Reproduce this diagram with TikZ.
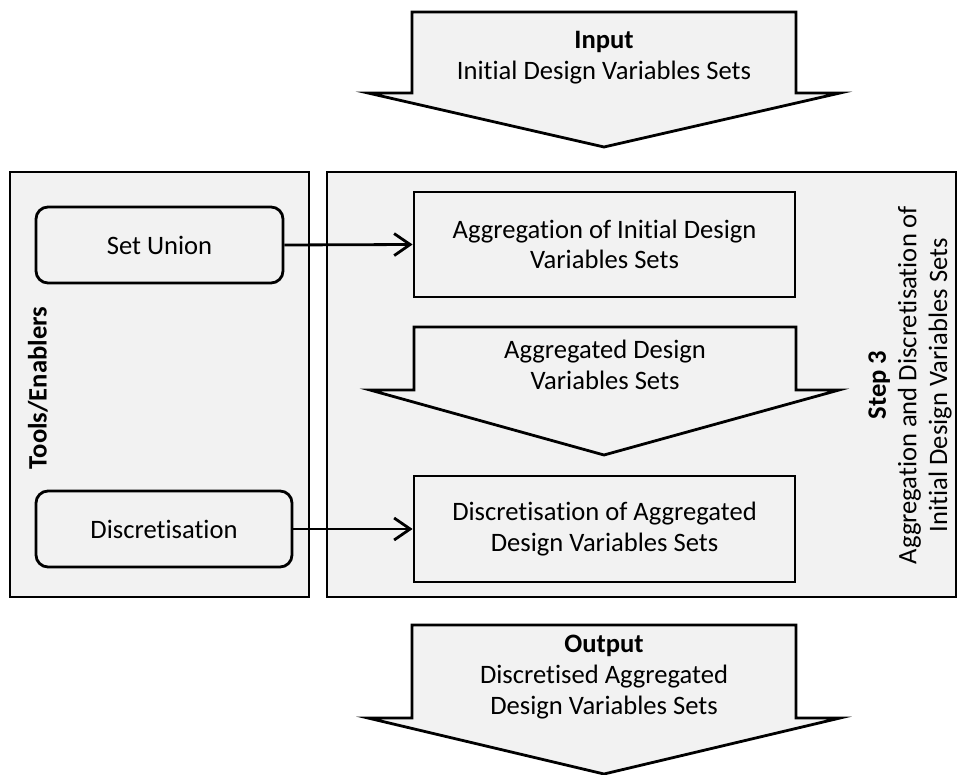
\documentclass[tikz,border=0pt]{standalone}
\usepackage{fontspec}
\setmainfont{Carlito}[Ligatures=NoCommon]
\usetikzlibrary{arrows.meta}
\definecolor{panelgray}{HTML}{F2F2F2}
\tikzset{
  txt/.style={font=\fontsize{26.6}{30.7}\selectfont, align=center, inner sep=0pt},
  panel/.style={draw=black, fill=panelgray, line width=2.8pt, rectangle, inner sep=0pt},
  toolbox/.style={panel, rounded corners=12pt, txt},
  stepbox/.style={panel, txt},
  blockarrow/.style={draw=black, fill=panelgray, line width=2.8pt, line join=miter},
  link/.style={line width=2.8pt, -{Straight Barb[length=16pt,width=22pt,line width=2.8pt]}}
}
\begin{document}
\begin{tikzpicture}[x=1pt, y=-1pt]
  \useasboundingbox (0,0) rectangle (960,775);

  % input block arrow
  \draw[blockarrow] (412,12) -- (796,12) -- (796,93) -- (840,93) -- (604,147)
    -- (368,93) -- (412,93) -- cycle;
  \node[txt] (input) at (604,58) {\textbf{Input}\\Initial Design Variables Sets};

  % side panels
  \node[panel, minimum width=299pt, minimum height=425pt] (tools) at (159.5,384.5) {};
  \node[panel, minimum width=629pt, minimum height=425pt] (step) at (641.5,384.5) {};

  \node[txt, font=\fontsize{26.6}{30.7}\selectfont\bfseries, rotate=90] (toolslabel) at (38,388) {Tools/Enablers};
  \node[txt, rotate=90] (steplabel) at (910,385)
    {\textbf{Step 3}\\Aggregation and Discretisation of\\Initial Design Variables Sets};

  % tools
  \node[toolbox, minimum width=247pt, minimum height=76pt] (union) at (159.5,245) {Set Union};
  \node[toolbox, minimum width=256pt, minimum height=76pt] (discl) at (164,529) {Discretisation};

  % process steps
  \node[stepbox, minimum width=381pt, minimum height=105pt] (agg) at (604.5,244.5)
    {Aggregation of Initial Design\\Variables Sets};
  \draw[blockarrow] (414,327) -- (796,327) -- (796,390) -- (839,390) -- (604,455)
    -- (370,390) -- (414,390) -- cycle;
  \node[txt] (aggset) at (605,365) {Aggregated Design\\Variables Sets};
  \node[stepbox, minimum width=381pt, minimum height=106pt] (disc) at (604.5,529)
    {Discretisation of Aggregated\\Design Variables Sets};

  % tool links
  \draw[link] (union.east) -- (agg.west);
  \draw[link] (discl.east) -- (disc.west);

  % output block arrow
  \draw[blockarrow] (412,625) -- (796,625) -- (796,718) -- (840,718) -- (604,774)
    -- (368,718) -- (412,718) -- cycle;
  \node[txt] (output) at (604,677) {\textbf{Output}\\Discretised Aggregated\\Design Variables Sets};
\end{tikzpicture}
\end{document}
